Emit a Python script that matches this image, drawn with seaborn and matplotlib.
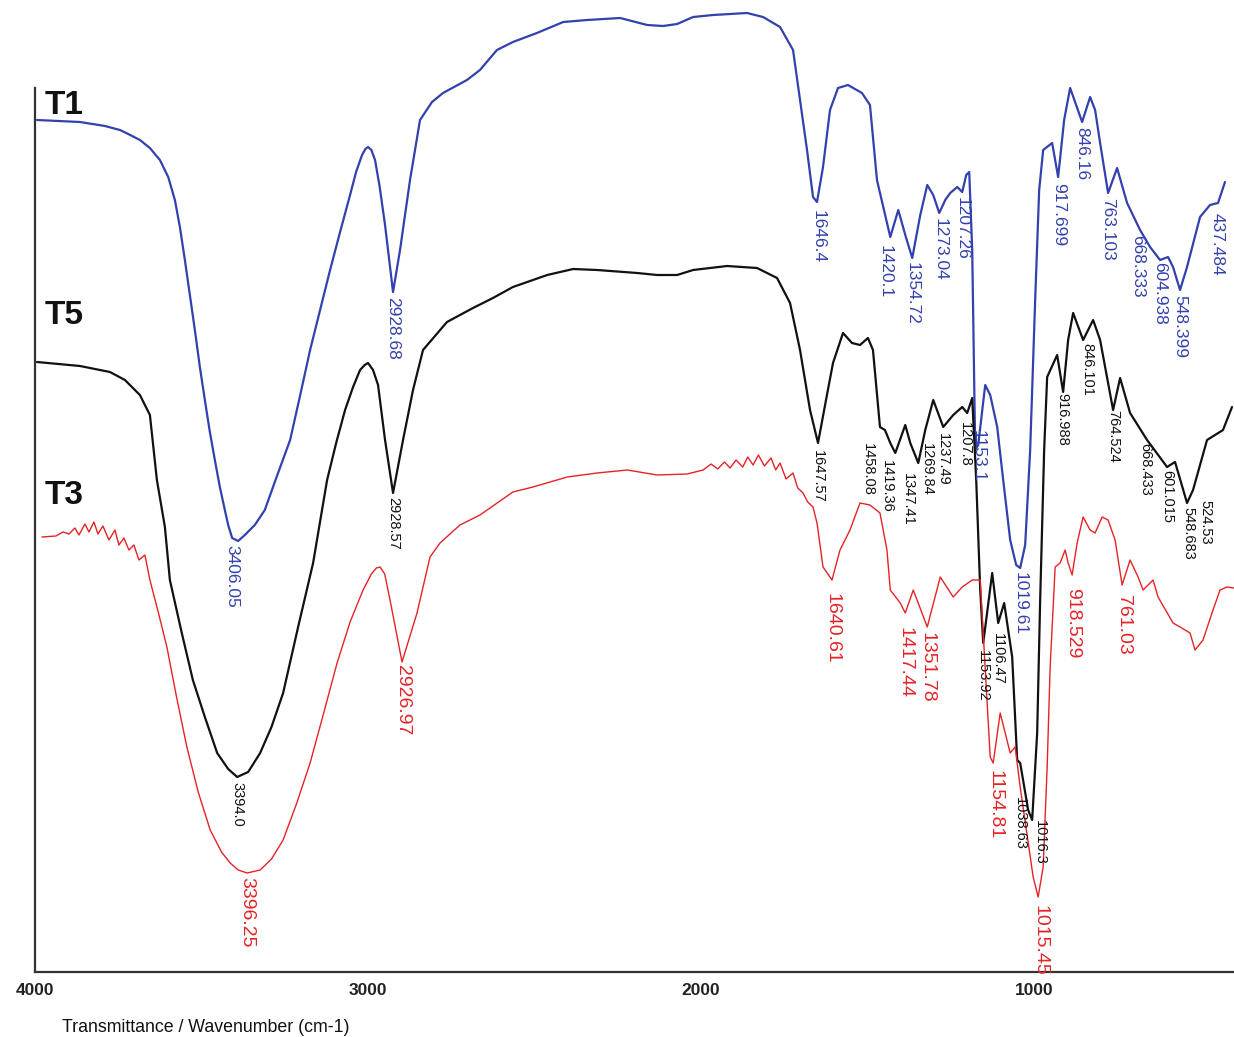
import numpy as np
import pandas as pd
import matplotlib.pyplot as plt
import seaborn as sns

# FTIR spectra, wavenumber (cm-1) vs transmittance (a.u., curves stacked)
t1_wn = [3994, 3865, 3790, 3745, 3720, 3685, 3655, 3625, 3600, 3580, 3565, 3550, 3520, 3505,
         3490, 3475, 3460, 3445, 3430, 3420, 3408, 3390, 3370, 3340, 3310, 3280, 3234, 3205,
         3174, 3144, 3114, 3084, 3054, 3036, 3018, 3008, 3000, 2990, 2979, 2965, 2949, 2925,
         2904, 2874, 2844, 2808, 2775,
         2703, 2664, 2613, 2565, 2493, 2414, 2342, 2243, 2162, 2114, 2072, 2024, 1964, 1862,
         1814, 1763, 1724, 1703, 1682, 1664, 1652, 1634, 1613, 1589, 1559, 1517, 1493, 1472,
         1432, 1408, 1387, 1366, 1342, 1321, 1303, 1285, 1267, 1252, 1231, 1216, 1204, 1195,
         1186, 1177, 1168, 1147, 1132, 1111, 1093, 1072, 1054, 1042, 1027, 1012, 997, 985,
         973, 946, 928, 910, 892, 874, 856, 832, 817, 802, 778, 751, 721, 682, 652, 622,
         598, 583, 562, 541, 502, 472, 448, 427]
t1_t = [852, 850, 846, 842, 838, 832, 824, 812, 795, 772, 745, 712, 642, 605,
        572, 540, 512, 485, 462, 447, 434, 431, 437, 447, 462, 490, 532, 575,
        622, 662, 702, 740, 777, 800, 817, 823, 825, 822, 812, 785, 747, 680,
        722, 792, 852, 870, 879,
        892, 902, 922, 930, 939, 950, 952, 954, 947, 946, 948, 955, 957, 959,
        955, 945, 922, 872, 822, 775, 770, 805, 862, 884, 887, 879, 867, 792,
        735, 762, 737, 714, 757, 787, 777, 759, 772, 779, 785, 780, 797, 800,
        722, 522, 527, 587, 577, 545, 492, 432, 407, 404, 427, 522, 672, 782,
        822, 829, 795, 852, 884, 867, 850, 875, 862, 829, 779, 804, 769, 742, 725, 712,
        715, 705, 682, 705, 755, 767, 769, 790]

t5_wn = [3994, 3865, 3775, 3730, 3685, 3655, 3634, 3610, 3595, 3560, 3526, 3490, 3453, 3420,
         3393, 3360, 3324, 3290, 3255, 3210, 3165, 3123, 3095, 3069, 3045, 3024, 3010, 3000,
         2985, 2970, 2949, 2925, 2895, 2865, 2835, 2763, 2685, 2625, 2565,
         2462, 2384, 2312, 2192, 2132, 2072, 2024, 1922, 1832, 1772, 1733, 1703, 1673, 1649,
         1625, 1604, 1574, 1547, 1523, 1499, 1484, 1463, 1448, 1432, 1417, 1387, 1372, 1348,
         1327, 1303, 1273, 1243, 1216, 1201, 1186, 1174, 1162, 1153, 1126, 1108, 1090, 1066,
         1051, 1042, 1018, 1006, 991, 982, 970, 961, 931, 913, 898, 883, 853, 823, 802,
         763, 742, 712, 661, 601, 577, 541, 523, 481, 433, 406]
t5_t = [610, 606, 600, 592, 577, 557, 492, 445, 392, 340, 292, 255, 219, 203,
        195, 200, 219, 245, 279, 345, 409, 492, 530, 562, 585, 602, 607, 609,
        602, 587, 532, 479, 532, 582, 622, 650, 664, 674, 685,
        697, 703, 702, 699, 697, 697, 702, 706, 704, 694, 669, 622, 562, 529,
        572, 609, 639, 629, 627, 634, 622, 545, 542, 529, 519, 547, 529, 509,
        542, 572, 545, 557, 565, 559, 574, 492, 382, 329, 399, 349, 369, 315,
        212, 209, 162, 152, 239, 372, 522, 595, 617, 580, 632, 659, 632, 652, 632,
        562, 594, 559, 532, 505, 510, 469, 482, 532, 542, 565]

t3_wn = [3979, 3937, 3916, 3898, 3880, 3868, 3850, 3838, 3823, 3811, 3796, 3778, 3760, 3748,
         3733, 3718, 3703, 3688, 3670, 3655, 3630, 3604, 3575, 3544, 3510, 3474, 3440, 3414,
         3390, 3363, 3324, 3290, 3255, 3215, 3174, 3134, 3093, 3054, 3015, 2990, 2975, 2964,
         2950, 2934, 2898, 2853, 2814, 2784, 2724, 2664, 2565, 2505, 2402, 2312,
         2222, 2132, 2042, 1994, 1970, 1950, 1930, 1913, 1895, 1875, 1860, 1844, 1828, 1810,
         1790, 1776, 1763, 1745, 1724, 1710, 1694, 1680, 1664, 1652, 1634, 1607, 1583, 1553,
         1523, 1493, 1463, 1442, 1432, 1402, 1387, 1363, 1321, 1282, 1243, 1216, 1186, 1162,
         1153, 1132, 1123, 1102, 1087, 1072, 1057, 1042, 1003, 988, 973, 961, 952, 937,
         922, 907, 898, 886, 871, 853, 832, 817, 796, 778, 757, 736, 712, 688, 673, 643,
         628, 583, 562, 532, 517, 493, 463, 442, 421, 400]
t3_t = [435, 436, 440, 438, 444, 437, 448, 440, 450, 438, 446, 432, 442, 427,
        434, 422, 427, 412, 417, 392, 360, 325, 275, 225, 180, 142, 120, 109,
        102, 99, 102, 113, 132, 168, 209, 258, 309, 350, 382, 398, 404, 405,
        398, 372, 310, 359, 415, 429, 447, 457, 480, 485, 495, 499,
        502, 497, 498, 502, 508, 503, 510, 504, 512, 505, 515, 507, 517, 506,
        514, 502, 509, 493, 499, 484, 479, 470, 465, 449, 405, 392, 422, 442,
        469, 467, 459, 422, 382, 369, 359, 382, 345, 395, 375, 385, 392, 392,
        339, 215, 209, 259, 239, 219, 225, 185, 95, 75, 105, 205, 305, 405,
        409, 422, 409, 397, 429, 455, 442, 439, 455, 452, 432, 387, 412, 395, 382, 392,
        375, 349, 345, 339, 322, 332, 362, 382, 385, 384]

# peak labels: text, wavenumber and transmittance where the label starts
t1_peaks = ["3406.05", "2928.68", "1646.4", "1420.1", "1354.72", "1273.04", "1207.26", "1153.1",
            "1019.61", "917.699", "846.16", "763.103", "668.333", "604.938", "548.399", "437.484"]
t1_peak_wn = [3408, 2925, 1649, 1447, 1366, 1282, 1216, 1168, 1042, 928, 856, 778, 688, 622, 562, 450]
t1_peak_t = [427, 675, 762, 727, 710, 754, 775, 542, 400, 789, 845, 774, 737, 710, 677, 759]

t5_peaks = ["3394.0", "2928.57", "1647.57", "1458.08", "1419.36", "1347.41", "1269.84", "1237.49",
            "1207.8", "1153.92", "1106.47", "1038.63", "1016.3", "916.988", "846.101", "764.524",
            "668.433", "601.015", "548.683", "524.53"]
t5_peak_wn = [3393, 2925, 1649, 1499, 1441, 1378, 1321, 1273, 1207, 1153, 1108, 1042, 982, 916,
              841, 763, 667, 601, 538, 487]
t5_peak_t = [190, 475, 522, 529, 512, 499, 529, 539, 550, 322, 339, 175, 152, 579, 629, 562,
             529, 502, 465, 472]

t3_peaks = ["3396.25", "2926.97", "1640.61", "1417.44", "1351.78", "1154.81", "1015.45",
            "918.529", "761.03"]
t3_peak_wn = [3363, 2898, 1607, 1387, 1321, 1117, 982, 886, 733]
t3_peak_t = [95, 307, 379, 345, 340, 202, 67, 384, 377]

names = ["T1", "T5", "T3"]
name_t = [866, 657, 477]
colors = ["#3241ad", "#111111", "#e52326"]
widths = [1.6, 1.6, 1.0]
label_sizes = [12.5, 10.5, 14]

sns.set_theme(style="white")
plt.rcParams['font.family'] = ['Liberation Sans', 'DejaVu Sans']

fig = plt.figure(figsize=(12.34, 10.37), dpi=100)
ax = fig.add_axes([35 / 1234, 65 / 1037, 1 - 35 / 1234, 972 / 1037])

curves = [(t1_wn, t1_t), (t5_wn, t5_t), (t3_wn, t3_t)]
peaks = [(t1_peaks, t1_peak_wn, t1_peak_t), (t5_peaks, t5_peak_wn, t5_peak_t),
         (t3_peaks, t3_peak_wn, t3_peak_t)]

for i, (wn, t) in enumerate(curves):
    df = pd.DataFrame({"wavenumber": wn, "transmittance": t})
    sns.lineplot(data=df, x="wavenumber", y="transmittance", sort=False, estimator=None,
                 color=colors[i], linewidth=widths[i], ax=ax)
    labs, pwn, pt = peaks[i]
    for lab, x, y in zip(labs, pwn, pt):
        ax.text(x, y, lab, rotation=270, ha="center", va="top", color=colors[i],
                fontsize=label_sizes[i])
    ax.text(3972, name_t[i], names[i], ha="left", va="center", fontsize=24,
            fontweight="bold", color="#111111")

ax.set_xlim(4000, 400)
ax.set_ylim(0, 972)
ax.set_xticks([4000, 3000, 2000, 1000])
ax.set_xticklabels(["4000", "3000", "2000", "1000"], fontsize=12.5, fontweight="bold")
ax.set_yticks([])
ax.tick_params(axis="x", length=0, pad=8, colors="#222222")
ax.set_xlabel("")
ax.set_ylabel("")
for s in ["top", "right"]:
    ax.spines[s].set_visible(False)
for s in ["left", "bottom"]:
    ax.spines[s].set_color("#333333")
    ax.spines[s].set_linewidth(1.6)
ax.spines["left"].set_bounds(0, 884)
ax.patch.set_alpha(0)

fig.text(62 / 1234, 1 - 1027 / 1037, "Transmittance / Wavenumber (cm-1)", ha="left",
         va="center", fontsize=12.8, color="#111111")

fig.savefig("out.png", dpi=100)
